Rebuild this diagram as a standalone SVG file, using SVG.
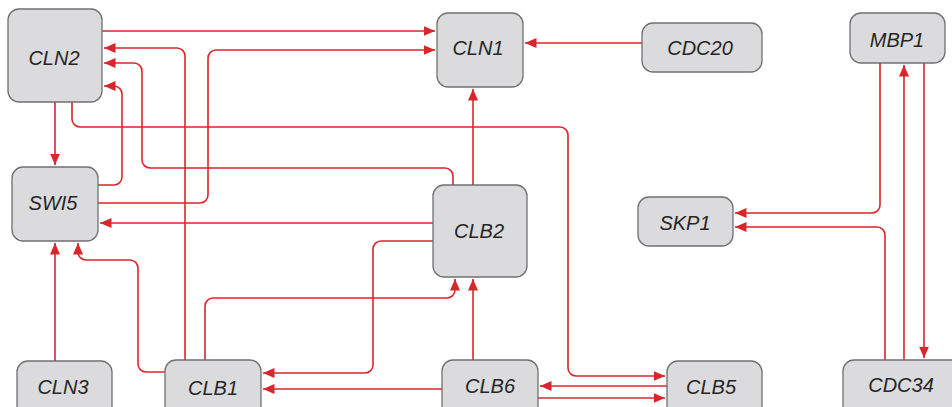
<svg xmlns="http://www.w3.org/2000/svg" width="952" height="407" viewBox="0 0 952 407">
<defs>
<marker id="ah" markerUnits="userSpaceOnUse" markerWidth="13" markerHeight="11" refX="11.5" refY="5" orient="auto">
<path d="M0,0 L11.5,5 L0,10 z" fill="#d9262c"/>
</marker>
<style>
.n rect{fill:#dbdbdd;stroke:#707070;stroke-width:1.3}
.n text{font-family:"Liberation Sans",Arial,sans-serif;font-style:italic;font-size:20px;fill:#262626;text-anchor:middle}
#edges path{fill:none;stroke:#d9262c;stroke-width:1.6;marker-end:url(#ah)}
</style>
</defs>
<rect width="952" height="407" fill="#ffffff"/>
<g id="edges">
<path id="e-cln2-cln1" d="M102,31 H435"/>
<path id="e-swi5-cln1" d="M98,203 H200 A8,8 0 0 0 208,195 V58 A8,8 0 0 1 216,50 H435"/>
<path id="e-clb1-cln2" d="M185,360 V56 A8,8 0 0 0 177,48 H104"/>
<path id="e-clb2-cln2" d="M453,185 V176 A8,8 0 0 0 445,168 H150 A8,8 0 0 1 142,160 V71 A8,8 0 0 0 134,63 H104"/>
<path id="e-swi5-cln2" d="M98,185 H114 A8,8 0 0 0 122,177 V94 A8,8 0 0 0 114,86 H104"/>
<path id="e-cln2-swi5" d="M55,102 V165"/>
<path id="e-cln2-clb5" d="M72,102 V119 A8,8 0 0 0 80,127 H560 A8,8 0 0 1 568,135 V368 A8,8 0 0 0 576,376 H665"/>
<path id="e-clb5-clb6" d="M667,386 H540"/>
<path id="e-clb6-clb5" d="M538,398 H665"/>
<path id="e-clb6-clb2" d="M473,360 V279"/>
<path id="e-clb2-cln1" d="M473,185 V89"/>
<path id="e-clb1-clb2" d="M205,360 V306 A8,8 0 0 1 213,298 H447 A8,8 0 0 0 455,290 V279"/>
<path id="e-clb2-swi5" d="M433,223 H100"/>
<path id="e-clb2-clb1" d="M433,241 H381 A8,8 0 0 0 373,249 V365 A8,8 0 0 1 365,373 H263"/>
<path id="e-clb6-clb1" d="M442,389 H263"/>
<path id="e-clb1-swi5" d="M165,372 H146 A8,8 0 0 1 138,364 V268 A8,8 0 0 0 130,260 H86 A8,8 0 0 1 78,252 V243"/>
<path id="e-cln3-swi5" d="M55,361 V243"/>
<path id="e-cdc20-cln1" d="M642,43 H525"/>
<path id="e-mbp1-skp1" d="M880,63 V205 A8,8 0 0 1 872,213 H735"/>
<path id="e-cdc34-skp1" d="M885,360 V235 A8,8 0 0 0 877,227 H735"/>
<path id="e-cdc34-mbp1" d="M904,360 V65"/>
<path id="e-mbp1-cdc34" d="M924,63 V358"/>
</g>
<g id="CLN2" class="n"><rect x="8" y="9" width="94" height="93" rx="11"/><text x="54" y="65">CLN2</text></g>
<g id="SWI5" class="n"><rect x="12" y="167" width="86" height="74" rx="11"/><text x="53" y="210">SWI5</text></g>
<g id="CLN1" class="n"><rect x="437" y="13" width="86" height="74" rx="11"/><text x="478" y="55">CLN1</text></g>
<g id="CDC20" class="n"><rect x="642" y="23" width="120" height="49" rx="11"/><text x="700" y="55">CDC20</text></g>
<g id="MBP1" class="n"><rect x="850" y="13" width="95" height="50" rx="11"/><text x="897" y="47">MBP1</text></g>
<g id="SKP1" class="n"><rect x="638" y="197" width="95" height="49" rx="11"/><text x="685" y="230">SKP1</text></g>
<g id="CLB2" class="n"><rect x="433" y="185" width="94" height="92" rx="11"/><text x="479" y="238">CLB2</text></g>
<g id="CLN3" class="n"><rect x="17" y="361" width="95" height="60" rx="11"/><text x="63" y="394">CLN3</text></g>
<g id="CLB1" class="n"><rect x="165" y="360" width="96" height="60" rx="11"/><text x="213" y="395">CLB1</text></g>
<g id="CLB6" class="n"><rect x="442" y="360" width="96" height="60" rx="11"/><text x="490" y="393">CLB6</text></g>
<g id="CLB5" class="n"><rect x="667" y="361" width="95" height="60" rx="11"/><text x="711" y="394">CLB5</text></g>
<g id="CDC34" class="n"><rect x="843" y="360" width="120" height="60" rx="11"/><text x="901" y="392">CDC34</text></g>
</svg>
